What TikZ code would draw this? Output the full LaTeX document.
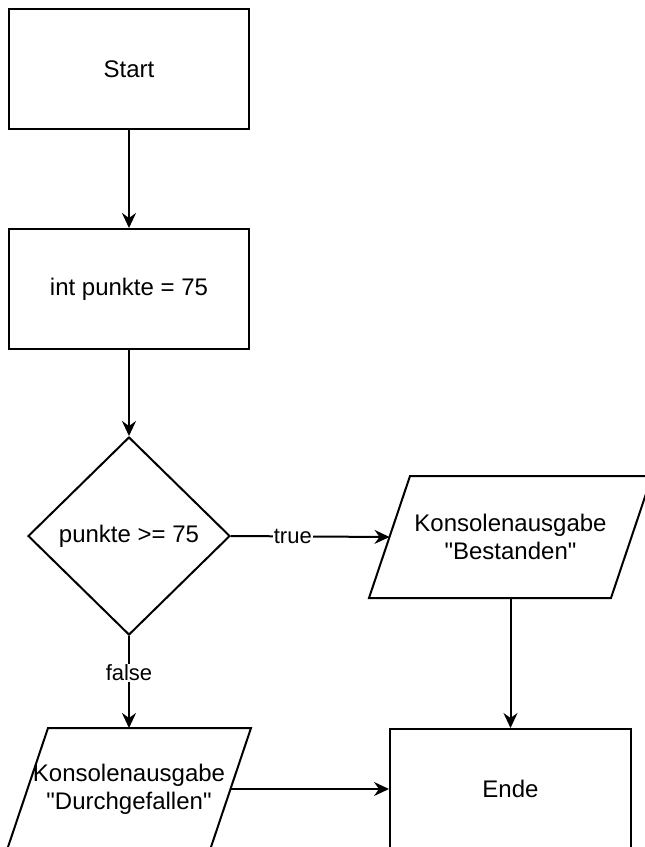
\documentclass[tikz,border=0pt]{standalone}
\usepackage{fontspec}
\setmainfont{Liberation Sans}[Ligatures=TeXOff]
\usetikzlibrary{shapes.geometric,arrows.meta}
\tikzset{
  base/.style={line width=2pt, inner sep=0pt, align=center, font=\fontsize{24}{28}\selectfont},
  procbox/.style={base, draw, rectangle, minimum width=240pt, minimum height=120pt},
  iobox/.style={base, rectangle, minimum height=120pt},
  decide/.style={base, draw, diamond, minimum width=202pt, minimum height=198pt},
  conn/.style={line width=2pt, -{Stealth[length=15pt,width=14pt,inset=5pt]}},
  lbl/.style={fill=white, inner sep=1pt, font=\fontsize{22}{26}\selectfont}
}
\begin{document}
\begin{tikzpicture}[x=1pt,y=-1pt]
\clip (0,0) rectangle (645,847);
\useasboundingbox (0,0) rectangle (645,847);
\fill[white] (0,0) rectangle (645,847);

\node[procbox] (start) at (129,69) {Start};
\node[procbox] (init) at (129,289) {int punkte = 75};
\node[decide] (dec) at (129,536) {punkte >= 75};
\node[iobox, minimum width=240pt] (best) at (510.5,537) {Konsolenausgabe\\"Bestanden"};
\node[iobox, minimum width=201pt] (durch) at (129,789) {Konsolenausgabe\\"Durchgefallen"};
\node[procbox, minimum width=241pt] (ende) at (510.5,789) {Ende};

\draw[line width=2pt] ([xshift=20.5pt]best.north west) -- ([xshift=20.5pt]best.north east)
  -- ([xshift=-20.5pt]best.south east) -- ([xshift=-20.5pt]best.south west) -- cycle;
\draw[line width=2pt] ([xshift=20.5pt]durch.north west) -- ([xshift=20.5pt]durch.north east)
  -- ([xshift=-20.5pt]durch.south east) -- ([xshift=-20.5pt]durch.south west) -- cycle;

\draw[conn] (start.south) -- (init.north);
\draw[conn] (init.south) -- (dec.north);
\draw[conn] (dec.east) -- node[lbl, pos=0.39] {true} (best.west);
\draw[conn] (dec.south) -- node[lbl, pos=0.4] {false} (durch.north);
\draw[conn] (best.south) -- (ende.north);
\draw[conn] (durch.east) -- (ende.west);
\end{tikzpicture}
\end{document}
